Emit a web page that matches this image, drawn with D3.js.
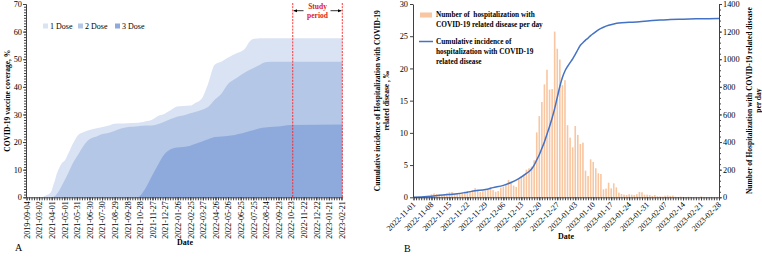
<!DOCTYPE html>
<html>
<head>
<meta charset="utf-8">
<script src="https://cdn.jsdelivr.net/npm/d3@7"></script>
<style>
  body { margin: 0; background: #fff; }
  svg text { font-family: "Liberation Serif", "Times New Roman", serif; fill: #000; }
  .axis path, .axis line { stroke: #404040; }
</style>
</head>
<body>
<svg id="chart" width="762" height="263"></svg>
<script>
// ---------- panel A: vaccine coverage ----------
// category index, one label every 30 categories
const aLabels = ["2019-09-04","2021-03-02","2021-04-01","2021-05-01","2021-05-31","2021-06-30",
  "2021-07-30","2021-08-29","2021-09-28","2021-10-28","2021-11-27","2021-12-27","2022-01-26",
  "2022-02-25","2022-03-27","2022-04-26","2022-05-26","2022-06-25","2022-07-25","2022-08-24",
  "2022-09-23","2022-10-23","2022-11-22","2022-12-22","2023-01-21","2023-02-21"];
const aIdx = [0,36,40,48,56,60,64,68,72,76,84,92,100,111,123,135,150,167,179,199,209,227,239,266,269,
  278,286,298,314,328,342,358,373,390,401,418,433,448,465,478,496,508,520,532,542,556,568,580,598,628,752];
const dose1 = [0,0,0.2,0.8,1.5,2.5,4.5,6.3,8.5,10,12.3,13.5,16,19.6,22.6,23.6,24.4,25,25.4,26.1,26.6,26.7,26.8,27,27.1,
  27.3,27.6,28,29.5,30.2,31.4,32.9,33.1,33.2,34.1,35.9,41.4,48,49.2,50.4,51.9,52.6,53.8,56.5,57.4,57.6,57.6,57.6,57.6,57.6,57.6];
const dose2 = [0,0,0,0,0,0.1,0.2,0.5,1.2,2,4.2,6.5,9,12.5,15.5,18.5,21,22,22.8,23.5,24,25,25.4,25.7,25.8,
  25.9,26,26,26.5,27.4,28.3,29.2,29.6,30.4,30.9,31.7,32.8,35.3,37.7,40.7,42.8,44,45.2,46.2,46.9,48,48.9,49.1,49.1,49.1,49.1];
const dose3 = [0,0,0,0,0,0,0,0,0,0,0,0,0,0,0,0,0,0,0,0,0,0,0,0,0.3,
  2,4,7.5,12,15.5,17.3,18,18.2,18.7,19.3,20.2,21,21.8,22,22.2,22.6,23,23.5,24,24.4,25,25.3,25.5,25.6,26.2,26.4];
const doseNames = ["1 Dose", "2 Dose", "3 Dose"];
const studyStart = 634, studyEnd = 752;

// ---------- panel B: hospitalization ----------
const bLabels = ["2022-11-01","2022-11-08","2022-11-15","2022-11-22","2022-11-29","2022-12-06",
  "2022-12-13","2022-12-20","2022-12-27","2023-01-03","2023-01-10","2023-01-17","2023-01-24",
  "2023-01-31","2023-02-07","2023-02-14","2023-02-21","2023-02-28"];
// daily counts, day 0 = 2022-11-01
const dailyCount = [3,2,4,3,5,6,10,22,28,24,20,15,18,28,36,38,24,22,28,33,
  42,46,42,50,66,55,38,44,50,55,75,52,40,45,70,78,88,125,112,85,
  75,140,150,165,200,210,222,268,470,588,690,818,924,780,784,1200,1076,998,812,848,
  522,432,362,516,452,386,396,193,154,275,256,210,174,169,58,63,106,65,101,72,
  34,24,19,17,22,19,17,22,39,36,19,19,17,10,17,7,7,5,12,14,
  10,12,4,3,5,3,2,4,3,2,3,2,6,3,2,2,3,2,2,1];
const lineDays = [0,3,7,10,14,17,21,24,28,31,35,38,41,44,46,47,48,49,50,51,52,53,54,55,56,57,58,59,
  60,61,62,63,64,65,66,67,68,69,70,72,74,76,78,80,84,88,92,96,100,105,110,115,119];
const cumIncidence = [0.02,0.05,0.15,0.3,0.45,0.55,0.8,1.0,1.2,1.5,1.85,2.3,2.9,3.7,4.4,5.0,5.8,6.6,7.6,8.6,
  9.8,11.0,12.3,13.8,15.5,17.2,18.6,19.6,20.3,20.9,21.5,22.2,22.9,23.6,24.0,24.4,24.7,25.1,25.4,26.0,
  26.4,26.7,26.9,27.05,27.15,27.25,27.4,27.5,27.6,27.65,27.7,27.72,27.75];

const svg = d3.select("#chart");
const doseColors = ["#dae3f3", "#b4c7e7", "#8eaadc"];

// ===== Panel A =====
const xA = d3.scaleLinear().domain([0, 752]).range([26.5, 342.3]);
const yA = d3.scaleLinear().domain([0, 70]).range([197.3, 4]);
const gA = svg.append("g");

[dose1, dose2, dose3].forEach((vals, k) => {
  const area = d3.area()
    .x((d, i) => xA(aIdx[i]))
    .y0(yA(0))
    .y1(d => yA(d))
    .curve(d3.curveMonotoneX);
  gA.append("path").datum(vals).attr("d", area).attr("fill", doseColors[k]);
});

// study period lines
[studyStart, studyEnd].forEach(v => {
  gA.append("line")
    .attr("x1", xA(v)).attr("x2", xA(v))
    .attr("y1", 3).attr("y2", yA(0))
    .attr("stroke", "#ff2020").attr("stroke-width", 0.9)
    .attr("stroke-dasharray", "2,1.2");
});
svg.append("defs").append("marker")
  .attr("id", "arr").attr("viewBox", "0 0 10 10").attr("refX", 9).attr("refY", 5)
  .attr("markerWidth", 5).attr("markerHeight", 5).attr("orient", "auto")
  .append("path").attr("d", "M0,1 L10,5 L0,9 Z").attr("fill", "#000");
const midS = (xA(studyStart) + xA(studyEnd)) / 2;
gA.append("line").attr("x1", midS - 14).attr("x2", xA(studyStart) + 1)
  .attr("y1", 10.7).attr("y2", 10.7).attr("stroke", "#000").attr("stroke-width", 0.8)
  .attr("marker-end", "url(#arr)");
gA.append("line").attr("x1", midS + 13).attr("x2", xA(studyEnd) - 1)
  .attr("y1", 10.7).attr("y2", 10.7).attr("stroke", "#000").attr("stroke-width", 0.8)
  .attr("marker-end", "url(#arr)");
gA.append("text").attr("x", midS).attr("y", 8.5).attr("text-anchor", "middle")
  .style("font-size", "7.5px").style("font-weight", "bold").style("fill", "#e02020").text("Study");
gA.append("text").attr("x", midS).attr("y", 18).attr("text-anchor", "middle")
  .style("font-size", "7.5px").style("font-weight", "bold").style("fill", "#e02020").text("period");

// axes A
gA.append("g").attr("class", "axis")
  .attr("transform", `translate(${xA(0) - 0.5},0)`)
  .call(d3.axisLeft(yA).tickValues(d3.range(0, 71, 1)).tickSize(2).tickFormat("").tickSizeOuter(0));
const yAxA = gA.append("g").attr("class", "axis")
  .attr("transform", `translate(${xA(0) - 0.5},0)`)
  .call(d3.axisLeft(yA).tickValues(d3.range(0, 71, 10)).tickSize(3).tickSizeOuter(0));
yAxA.selectAll("text").style("font-size", "8.3px").attr("x", -4);

gA.append("g").attr("class", "axis")
  .attr("transform", `translate(0,${yA(0)})`)
  .call(d3.axisBottom(xA).tickValues(d3.range(0, 753, 6)).tickSize(3).tickFormat("").tickSizeOuter(0));
const xAxA = gA.append("g").attr("class", "axis")
  .attr("transform", `translate(0,${yA(0)})`)
  .call(d3.axisBottom(xA).tickValues(aLabels.map((d, i) => i * 30))
    .tickFormat((d, i) => aLabels[i]).tickSize(3).tickSizeOuter(0));
xAxA.select(".domain").remove();
xAxA.selectAll("text")
  .style("font-size", "8px")
  .attr("text-anchor", "end")
  .attr("transform", "rotate(-90)")
  .attr("x", -4).attr("y", 0).attr("dy", "0.35em");

gA.append("text").attr("transform", `translate(7,${yA(35)}) rotate(-90)`)
  .attr("text-anchor", "middle").attr("dy", "0.35em")
  .style("font-size", "7.5px").style("font-weight", "bold").text("COVID-19 vaccine coverage, %");
gA.append("text").attr("x", 185).attr("y", 245).attr("text-anchor", "middle")
  .style("font-size", "8px").style("font-weight", "bold").text("Date");
gA.append("text").attr("x", 15).attr("y", 251).style("font-size", "10px").text("A");

// legend A
const legA = [43, 78, 115];
doseNames.forEach((n, k) => {
  gA.append("rect").attr("x", legA[k]).attr("y", 23.5).attr("width", 5).attr("height", 5)
    .attr("fill", doseColors[k]);
  gA.append("text").attr("x", legA[k] + 7).attr("y", 28.8).style("font-size", "8px").text(n);
});

// ===== Panel B =====
const xB = d3.scaleLinear().domain([0, 119]).range([413.5, 719]);
const yL = d3.scaleLinear().domain([0, 30]).range([197.3, 4]);
const yR = d3.scaleLinear().domain([0, 1400]).range([197.3, 4]);
const gB = svg.append("g");

gB.selectAll(".bar").data(dailyCount).enter().append("rect")
  .attr("class", "bar")
  .attr("x", (d, i) => xB(i) - 0.8)
  .attr("y", d => yR(d))
  .attr("width", 1.6)
  .attr("height", d => yR(0) - yR(d))
  .attr("fill", "#f8c6a0");

const lineB = d3.line()
  .x((d, i) => xB(lineDays[i]))
  .y(d => yL(d))
  .curve(d3.curveMonotoneX);
gB.append("path").datum(cumIncidence).attr("d", lineB)
  .attr("fill", "none").attr("stroke", "#4472c4").attr("stroke-width", 1.5);

// axes B
const yAxL = gB.append("g").attr("class", "axis")
  .attr("transform", `translate(${xB(0) - 0.5},0)`)
  .call(d3.axisLeft(yL).tickValues(d3.range(0, 31, 5)).tickSize(3).tickSizeOuter(0));
yAxL.selectAll("text").style("font-size", "8.3px").attr("x", -5);

gB.append("g").attr("class", "axis")
  .attr("transform", `translate(${xB(119)},0)`)
  .call(d3.axisRight(yR).tickValues(d3.range(0, 1401, 40)).tickSize(2).tickFormat("").tickSizeOuter(0));
const yAxR = gB.append("g").attr("class", "axis")
  .attr("transform", `translate(${xB(119)},0)`)
  .call(d3.axisRight(yR).tickValues(d3.range(0, 1401, 200)).tickFormat(d3.format("d"))
    .tickSize(3).tickSizeOuter(0));
yAxR.selectAll("text").style("font-size", "8.3px").attr("x", 4);

gB.append("g").attr("class", "axis")
  .attr("transform", `translate(0,${yR(0)})`)
  .call(d3.axisBottom(xB).tickValues(d3.range(0, 120, 1)).tickSize(3).tickFormat("").tickSizeOuter(0));
const xAxB = gB.append("g").attr("class", "axis")
  .attr("transform", `translate(0,${yR(0)})`)
  .call(d3.axisBottom(xB).tickValues(bLabels.map((d, i) => i * 7))
    .tickFormat((d, i) => bLabels[i]).tickSize(3).tickSizeOuter(0));
xAxB.select(".domain").remove();
xAxB.selectAll("text")
  .style("font-size", "8px")
  .attr("text-anchor", "end")
  .attr("x", 0).attr("y", 0).attr("dy", "0.35em")
  .attr("transform", "translate(0,6) rotate(-45)");

gB.append("text").attr("transform", `translate(377,${yL(15)}) rotate(-90)`)
  .attr("text-anchor", "middle").attr("dy", "0.35em")
  .style("font-size", "7.5px").style("font-weight", "bold")
  .text("Cumulative incidence of Hospitalization with COVID-19");
gB.append("text").attr("transform", `translate(386,${yL(15)}) rotate(-90)`)
  .attr("text-anchor", "middle").attr("dy", "0.35em")
  .style("font-size", "7.5px").style("font-weight", "bold")
  .text("related disease , ‰");
gB.append("text").attr("transform", `translate(749,${yR(700)}) rotate(-90)`)
  .attr("text-anchor", "middle").attr("dy", "0.35em")
  .style("font-size", "7.5px").style("font-weight", "bold")
  .text("Number of Hospitalization with COVID-19 related disease");
gB.append("text").attr("transform", `translate(758,${yR(700)}) rotate(-90)`)
  .attr("text-anchor", "middle").attr("dy", "0.35em")
  .style("font-size", "7.5px").style("font-weight", "bold")
  .text("per day");
gB.append("text").attr("x", 566).attr("y", 239).attr("text-anchor", "middle")
  .style("font-size", "8px").style("font-weight", "bold").text("Date");
gB.append("text").attr("x", 404).attr("y", 252).style("font-size", "10px").text("B");

// legend B
gB.append("rect").attr("x", 420).attr("y", 12.5).attr("width", 12).attr("height", 5).attr("fill", "#f8c6a0");
gB.append("line").attr("x1", 419).attr("x2", 433).attr("y1", 41.5).attr("y2", 41.5)
  .attr("stroke", "#4472c4").attr("stroke-width", 1.5);
const legB = [
  ["Number of  hospitalization with", 17.3],
  ["COVID-19 related disease per day", 27],
  ["Cumulative incidence of", 44.3],
  ["hospitalization with COVID-19", 54],
  ["related disease", 64]
];
legB.forEach(([t, y]) => {
  gB.append("text").attr("x", 436).attr("y", y).attr("xml:space", "preserve")
    .style("font-size", "7.3px").style("font-weight", "bold").style("white-space", "pre").text(t);
});
</script>
</body>
</html>
